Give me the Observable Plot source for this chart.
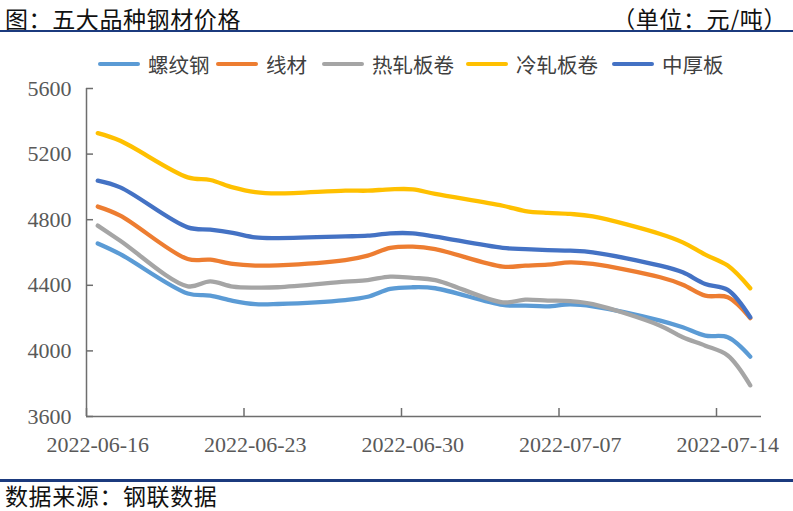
<!DOCTYPE html>
<html><head><meta charset="utf-8">
<script src="https://cdn.jsdelivr.net/npm/d3@7"></script>
<script src="https://cdn.jsdelivr.net/npm/@observablehq/plot@0.6"></script>
<style>
body{margin:0;background:#fff;}
#wrap{position:relative;width:793px;height:511px;overflow:hidden;font-family:"Noto Sans CJK SC",sans-serif;background:#fff;}
#chart{position:absolute;left:0;top:0;}
.title{position:absolute;top:3px;font-size:23px;line-height:30px;color:#111;letter-spacing:0.6px;white-space:nowrap;}
.rule{position:absolute;left:0;width:793px;height:2.5px;background:#1B3A7E;}
.leg{position:absolute;top:50px;height:28px;display:flex;align-items:center;font-size:20.5px;color:#404040;white-space:nowrap;}
.leg span.sw{display:inline-block;width:42px;height:4px;border-radius:2px;margin-right:8px;}
</style></head><body>
<div id="wrap">
  <div id="chart"></div>
  <div class="title" style="left:5px;">图：五大品种钢材价格</div>
  <div class="title" style="right:6px;">（单位：元/吨）</div>
  <div class="rule" style="top:29.5px;"></div>
  <div id="legend"></div>
  <div class="rule" style="top:479px;"></div>
  <div class="title" style="left:5px;top:480px;">数据来源：钢联数据</div>
</div>
<script>
const dates = ["2022-06-16","2022-06-17","2022-06-20","2022-06-21","2022-06-22","2022-06-23","2022-06-24",
  "2022-06-27","2022-06-28","2022-06-29","2022-06-30","2022-07-01","2022-07-04","2022-07-05","2022-07-06",
  "2022-07-07","2022-07-08","2022-07-11","2022-07-12","2022-07-13","2022-07-14","2022-07-15"];
const seriesNames = ["螺纹钢","线材","热轧板卷","冷轧板卷","中厚板"];
const seriesColors = ["#5B9BD5","#ED7D31","#A5A5A5","#FFC000","#4472C4"];
const rebar  = [4655,4590,4350,4337,4305,4285,4286,4310,4330,4378,4388,4382,4280,4276,4272,4284,4272,4185,4144,4093,4083,3965];
const wire   = [4880,4825,4560,4556,4530,4520,4522,4554,4581,4628,4636,4621,4514,4520,4526,4540,4530,4449,4404,4337,4327,4200];
const hotRoll= [4764,4672,4394,4424,4392,4386,4388,4422,4432,4453,4445,4432,4296,4313,4307,4303,4285,4154,4083,4032,3972,3790];
const coldRoll=[5328,5281,5058,5042,4997,4968,4960,4977,4977,4985,4985,4957,4885,4853,4841,4835,4820,4713,4662,4587,4520,4382];
const plate  = [5038,4997,4753,4739,4719,4692,4688,4698,4703,4717,4717,4697,4628,4621,4615,4611,4601,4520,4479,4408,4372,4205];
const xTickLabels = ["2022-06-16","2022-06-23","2022-06-30","2022-07-07","2022-07-14"];
const yTicks = [3600,4000,4400,4800,5200,5600];
const xDomain = ["2022-06-16","2022-07-16"];

const allValues = [rebar, wire, hotRoll, coldRoll, plate];
const parse = s => new Date(s + "T12:00:00Z");
const parse0 = s => new Date(s + "T00:00:00Z");
const rows = [];
seriesNames.forEach((name, i) => {
  dates.forEach((d, j) => rows.push({series: name, date: parse(d), value: allValues[i][j]}));
});
const xTicks = xTickLabels.map(parse0);
const xLabelPos = xTickLabels.map(parse);
const axisColor = "#6e6e6e";

const W = 793, H = 511, mL = 86, mR = 32, mT = 88, mB = 95;
const frameW = W - mL - mR, frameH = H - mT - mB;

const chart = Plot.plot({
  width: W, height: H,
  marginLeft: mL, marginRight: mR, marginTop: mT, marginBottom: mB,
  style: {fontFamily: "'Liberation Serif', 'Times New Roman', serif", fontSize: "22px", color: "#595959", background: "transparent", overflow: "visible"},
  x: {type: "utc", domain: xDomain.map(parse0), label: null},
  y: {domain: [3600, 5600], label: null},
  color: {domain: seriesNames, range: seriesColors},
  marks: [
    Plot.axisY({ticks: yTicks, tickSize: 0, tickPadding: 15, label: null, tickFormat: d => String(d)}),
    Plot.axisX({ticks: xLabelPos, tickSize: 0, tickPadding: 20, label: null, tickFormat: d3.utcFormat("%Y-%m-%d")}),
    Plot.ruleY(yTicks, {stroke: axisColor, strokeWidth: 1.5, insetRight: frameW - 7}),
    Plot.ruleX(xTicks, {stroke: axisColor, strokeWidth: 1.5, insetTop: frameH - 8}),
    Plot.ruleY([3600], {stroke: axisColor, strokeWidth: 1.5}),
    Plot.ruleX([parse0(xDomain[0])], {stroke: axisColor, strokeWidth: 1.5}),
    Plot.line(rows, {x: "date", y: "value", z: "series", stroke: "series", strokeWidth: 4.3, curve: "catmull-rom", strokeLinecap: "round", strokeLinejoin: "round"})
  ]
});
document.getElementById("chart").appendChild(chart);

const legendX = [98, 216, 322, 466, 612];
const legend = document.getElementById("legend");
seriesNames.forEach((name, i) => {
  const item = document.createElement("div");
  item.className = "leg";
  item.style.left = legendX[i] + "px";
  item.innerHTML = `<span class="sw" style="background:${seriesColors[i]}"></span><span>${name}</span>`;
  legend.appendChild(item);
});
</script>
</body></html>
